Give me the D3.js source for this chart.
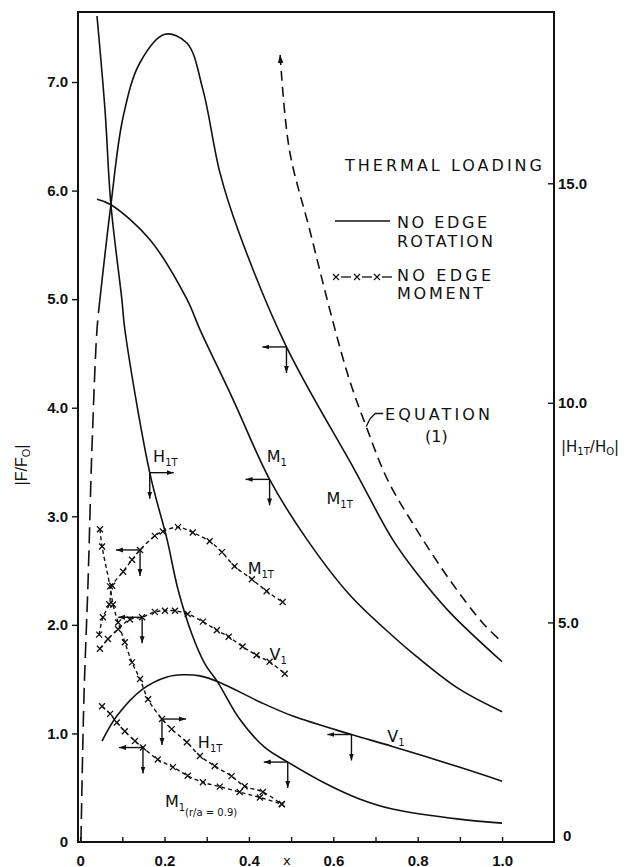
<!DOCTYPE html>
<html>
<head>
<meta charset="utf-8">
<script src="https://cdn.jsdelivr.net/npm/d3@7"></script>
<style>
body{margin:0;background:#fff;}
svg{display:block;}
</style>
</head>
<body>
<div id="chart"></div>
<script>
// values: [x, value]; left axis |F/F0|, right axis |H1T/H0|

// no edge rotation (solid lines)
var m1tRise = [[0.002,0],[0.009,1.32],[0.019,2.42],[0.028,3.62],[0.040,4.72],[0.047,5.0]];
var m1t = [[0.047,5.0],[0.073,5.87],[0.102,6.68],[0.142,7.18],[0.201,7.44],[0.253,7.36],[0.291,6.93],
           [0.331,6.17],[0.374,5.64],[0.489,4.56],[0.650,3.43],[0.740,2.79],[0.797,2.48],[0.875,2.12],[1.0,1.66]];
var m1 = [[0.040,5.92],[0.073,5.87],[0.165,5.55],[0.253,5.00],[0.284,4.72],[0.362,4.08],[0.449,3.34],
          [0.537,2.79],[0.638,2.28],[0.740,1.90],[0.797,1.71],[0.898,1.41],[1.0,1.20]];
var v1 = [[0.052,0.93],[0.087,1.16],[0.149,1.41],[0.206,1.52],[0.243,1.54],[0.284,1.53],[0.331,1.47],
          [0.426,1.29],[0.504,1.16],[0.643,0.99],[0.740,0.88],[0.898,0.69],[1.0,0.56]];
// right axis
var h1t = [[0.040,18.81],[0.059,16.67],[0.073,14.51],[0.099,12.35],[0.106,11.67],[0.165,8.41],[0.206,6.89],
           [0.232,5.75],[0.265,4.73],[0.296,4.05],[0.326,3.64],[0.378,2.80],[0.437,2.16],[0.492,1.82],
           [0.584,1.32],[0.662,0.98],[0.740,0.75],[0.898,0.52],[1.0,0.43]];
var eq1 = [[0.474,17.92],[0.496,15.76],[0.544,13.94],[0.598,11.89],[0.638,10.53],[0.678,9.46],
           [0.728,8.26],[0.797,7.12],[0.875,5.98],[0.953,5.00],[1.0,4.55]];

// no edge moment (x-x-x lines)
var m1tX = [[0.045,1.91],[0.054,2.07],[0.069,2.19],[0.076,2.36],[0.102,2.49],[0.123,2.60],[0.142,2.69],
            [0.177,2.82],[0.196,2.86],[0.232,2.90],[0.267,2.85],[0.307,2.77],[0.336,2.67],[0.366,2.54],
            [0.407,2.42],[0.442,2.31],[0.480,2.21]];
var v1X = [[0.047,1.78],[0.066,1.87],[0.090,1.96],[0.118,2.05],[0.147,2.07],[0.177,2.12],[0.201,2.13],
           [0.225,2.13],[0.255,2.10],[0.291,2.03],[0.324,1.95],[0.352,1.89],[0.385,1.80],[0.418,1.72],
           [0.449,1.66],[0.485,1.55]];
var h1tX = [[0.047,7.12],[0.052,6.73],[0.071,5.82],[0.078,5.41],[0.090,5.00],[0.106,4.55],[0.123,4.09],
            [0.142,3.71],[0.161,3.25],[0.194,2.80],[0.217,2.57],[0.253,2.27],[0.284,1.96],[0.319,1.73],
            [0.359,1.50],[0.390,1.27],[0.433,1.14],[0.478,0.86]];
var m1rX = [[0.052,1.25],[0.071,1.18],[0.087,1.10],[0.106,1.02],[0.130,0.93],[0.149,0.87],[0.184,0.76],
            [0.220,0.69],[0.255,0.61],[0.291,0.55],[0.331,0.51],[0.378,0.46],[0.426,0.41],[0.478,0.35]];

// arrow junctions [x, value, axis, horizontal direction]
var junctions = [[0.489,4.56,"L",-1],[0.449,3.34,"L",-1],[0.165,8.41,"R",1],[0.643,0.99,"L",-1],
                 [0.492,1.82,"R",-1],[0.142,2.69,"L",-1],[0.147,2.07,"L",-1],[0.194,2.80,"R",1],[0.149,0.87,"L",-1]];

var xTicks = [0,0.1,0.2,0.3,0.4,0.5,0.6,0.7,0.8,0.9,1.0];
var leftTicks = [0,1,2,3,4,5,6,7];
var rightTicks = [0,5,10,15];

var svgWidth=635, svgHeight=867;
var X = d3.scaleLinear().domain([-0.005,1.123]).range([78,554]);
var YL = d3.scaleLinear().domain([0,7.645]).range([842,12]);
var YR = d3.scaleLinear().domain([0,18.9]).range([842,12]);

var ink = "#111";
var tickFont = "'Liberation Sans', Arial, sans-serif";
var textFont = "'DejaVu Sans', Verdana, sans-serif";

var svg = d3.select("#chart").append("svg")
    .attr("width",svgWidth).attr("height",svgHeight);

var defs = svg.append("defs");
defs.append("clipPath").attr("id","plot")
    .append("rect").attr("x",78).attr("y",12).attr("width",476).attr("height",830);
defs.append("marker").attr("id","ah")
    .attr("viewBox","0 0 10 10").attr("refX",10).attr("refY",5)
    .attr("markerWidth",5).attr("markerHeight",5)
    .attr("orient","auto-start-reverse")
  .append("path").attr("d","M0,1.5L10,5L0,8.5Z").attr("fill",ink);

// frame
svg.append("rect").attr("x",78).attr("y",12).attr("width",476).attr("height",830)
    .attr("fill","none").attr("stroke",ink).attr("stroke-width",2);

// axes
var leftAxis = svg.append("g").attr("transform","translate(78,0)")
    .call(d3.axisLeft(YL).tickValues(leftTicks).tickSizeOuter(0).tickSize(6).tickPadding(4)
        .tickFormat(d => d===0 ? "0" : d3.format(".1f")(d)));
leftAxis.selectAll(".tick").filter(d => d===0).select("line").remove();

var bottomAxis = svg.append("g").attr("transform","translate(0,842)")
    .call(d3.axisBottom(X).tickValues(xTicks).tickSizeOuter(0).tickSize(-5).tickPadding(10)
        .tickFormat(d => (Math.round(d*10)%2===0) ? (d===0 ? "0" : d3.format(".1f")(d)) : ""));

var rightAxis = svg.append("g").attr("transform","translate(554,0)")
    .call(d3.axisRight(YR).tickValues(rightTicks).tickSizeOuter(0).tickSize(-6).tickPadding(4)
        .tickFormat(d => d===0 ? "0" : d3.format(".1f")(d)));
rightAxis.selectAll(".tick").filter(d => d===0).select("line").remove();
rightAxis.selectAll(".tick").filter(d => d===0).select("text").attr("x",9).attr("dy","-0.1em");

[leftAxis,bottomAxis,rightAxis].forEach(function(a){
    a.select(".domain").remove();
    a.selectAll("line").attr("stroke",ink).attr("stroke-width",1.4);
    a.selectAll("text").attr("fill",ink).attr("font-family",tickFont)
        .attr("font-weight","bold").attr("font-size",15);
});
bottomAxis.selectAll("text").attr("dy","0.9em");

// axis titles
var lt = svg.append("text").attr("transform","translate(27,465) rotate(-90)")
    .attr("text-anchor","middle").attr("font-family",tickFont).attr("font-size",16).attr("fill",ink);
lt.append("tspan").text("|F/F");
lt.append("tspan").attr("font-size",11).attr("dy",3).text("O");
lt.append("tspan").attr("dy",-3).text("|");

var rt = svg.append("text").attr("x",561).attr("y",452)
    .attr("font-family",textFont).attr("font-size",15).attr("fill",ink);
rt.append("tspan").text("|H");
rt.append("tspan").attr("font-size",10).attr("dy",3).text("1T");
rt.append("tspan").attr("dy",-3).text("/H");
rt.append("tspan").attr("font-size",10).attr("dy",3).text("O");
rt.append("tspan").attr("dy",-3).text("|");

svg.append("text").attr("x",X(0.49)).attr("y",865).attr("text-anchor","middle")
    .attr("font-family",textFont).attr("font-size",13).attr("fill",ink).text("x");

// curves
var plot = svg.append("g").attr("clip-path","url(#plot)");
function lineOn(ys){
    return d3.line().x(d => X(d[0])).y(d => ys(d[1])).curve(d3.curveCatmullRom.alpha(0.5));
}
function curve(data, ys, dash){
    return plot.append("path").attr("d",lineOn(ys)(data))
        .attr("fill","none").attr("stroke",ink).attr("stroke-width",1.6)
        .attr("stroke-dasharray",dash || null);
}
curve(m1tRise, YL, "16,7");
curve(m1t, YL);
curve(m1, YL);
curve(v1, YL);
curve(h1t, YR);
curve(eq1, YR, "10,6").attr("marker-start","url(#ah)");

function crossMarks(data, ys){
    plot.append("g").selectAll("path").data(data).enter().append("path")
        .attr("d", d => {
            var cx = X(d[0]), cy = ys(d[1]);
            return "M"+(cx-3)+","+(cy-3)+"L"+(cx+3)+","+(cy+3)+"M"+(cx+3)+","+(cy-3)+"L"+(cx-3)+","+(cy+3);
        })
        .attr("stroke",ink).attr("stroke-width",1.3);
}
[[m1tX,YL],[v1X,YL],[h1tX,YR],[m1rX,YL]].forEach(function(c){
    curve(c[0], c[1], "4,3").attr("stroke-width",1.4);
    crossMarks(c[0], c[1]);
});

// arrow junctions
junctions.forEach(function(j){
    var ys = j[2]==="L" ? YL : YR;
    var cx = X(j[0]), cy = ys(j[1]);
    plot.append("line").attr("x1",cx).attr("y1",cy).attr("x2",cx+j[3]*24).attr("y2",cy)
        .attr("stroke",ink).attr("stroke-width",1.4).attr("marker-end","url(#ah)");
    plot.append("line").attr("x1",cx).attr("y1",cy).attr("x2",cx).attr("y2",cy+26)
        .attr("stroke",ink).attr("stroke-width",1.4).attr("marker-end","url(#ah)");
});

// curve labels
function label(x, y, ys, main, sub, extra){
    var t = svg.append("text").attr("x",X(x)).attr("y",ys(y))
        .attr("font-family",textFont).attr("font-size",16).attr("fill",ink);
    t.append("tspan").text(main);
    t.append("tspan").attr("font-size",10).attr("dy",4).text(sub);
    if (extra) t.append("tspan").attr("font-size",10).attr("dy",5).text(extra);
    return t;
}
label(0.173,3.50,YL,"H","1T");
label(0.442,3.50,YL,"M","1");
label(0.584,3.11,YL,"M","1T");
label(0.728,0.92,YL,"V","1");
label(0.397,2.47,YL,"M","1T");
label(0.449,1.68,YL,"V","1");
label(0.279,0.87,YL,"H","1T");
label(0.201,0.32,YL,"M","1","(r/a = 0.9)");

// equation (1) label with leader
var ep = eq1[5];
var ex = X(ep[0]), ey = YR(ep[1]);
svg.append("path").attr("d","M"+ex+","+ey+"L"+(ex+4)+","+(ey-8)+"L"+(ex+9)+","+(ey-13)+"L"+(ex+17)+","+(ey-13))
    .attr("fill","none").attr("stroke",ink).attr("stroke-width",1.4);
svg.append("text").attr("x",385).attr("y",420).attr("textLength",105).attr("lengthAdjust","spacing")
    .attr("font-family",textFont).attr("font-size",16).attr("fill",ink).text("EQUATION");
svg.append("text").attr("x",425).attr("y",442)
    .attr("font-family",textFont).attr("font-size",16).attr("fill",ink).text("(1)");

// legend
var legend = svg.append("g").attr("font-family",textFont).attr("font-size",16).attr("fill",ink);
legend.append("text").attr("x",345).attr("y",171).attr("textLength",197).attr("lengthAdjust","spacing").text("THERMAL LOADING");
legend.append("line").attr("x1",335).attr("x2",390).attr("y1",221).attr("y2",221)
    .attr("stroke",ink).attr("stroke-width",1.5);
legend.append("text").attr("x",397).attr("y",228).attr("textLength",90).attr("lengthAdjust","spacing").text("NO EDGE");
legend.append("text").attr("x",397).attr("y",247).attr("textLength",96).attr("lengthAdjust","spacing").text("ROTATION");
var lx = [336,357,377];
lx.forEach(function(x){
    legend.append("path").attr("d","M"+(x-3)+","+274+"L"+(x+3)+","+280+"M"+(x+3)+","+274+"L"+(x-3)+","+280)
        .attr("stroke",ink).attr("stroke-width",1.2);
    legend.append("line").attr("x1",x+5).attr("x2",x+15).attr("y1",277).attr("y2",277)
        .attr("stroke",ink).attr("stroke-width",1.3);
});
legend.append("text").attr("x",397).attr("y",281).attr("textLength",94).attr("lengthAdjust","spacing").text("NO EDGE");
legend.append("text").attr("x",397).attr("y",299).attr("textLength",86).attr("lengthAdjust","spacing").text("MOMENT");
</script>
</body>
</html>
